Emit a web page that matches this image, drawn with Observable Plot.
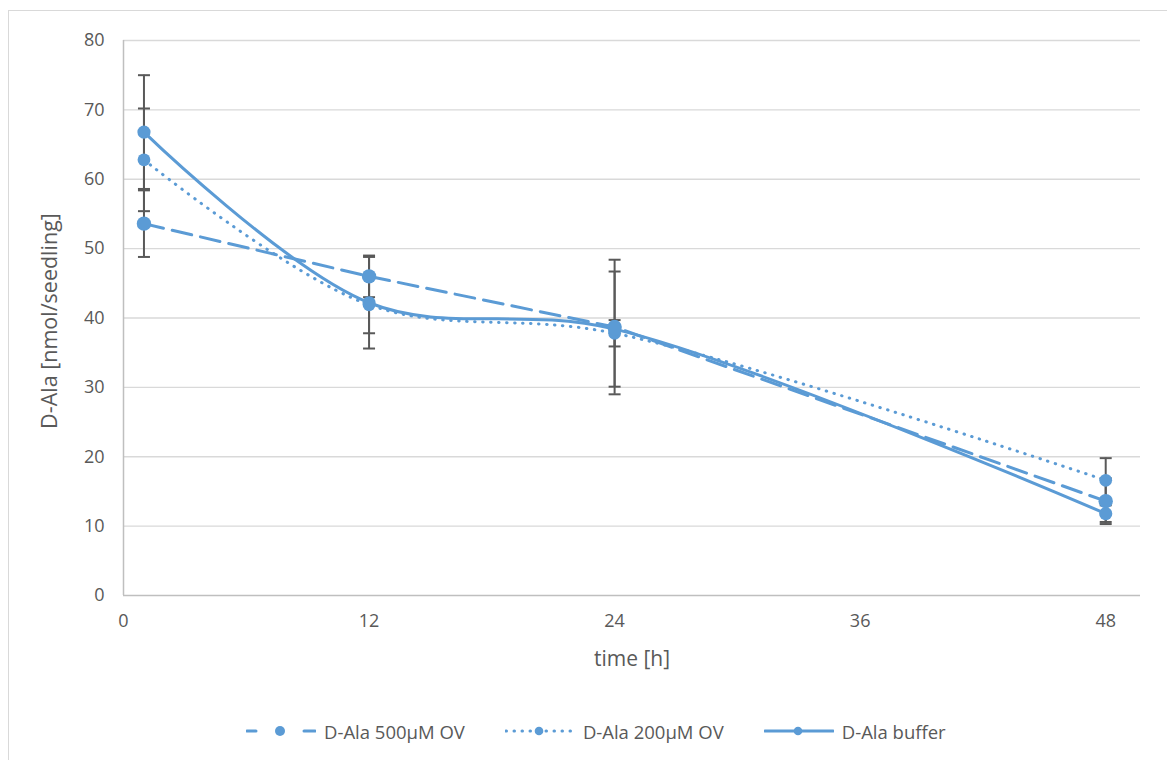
<!DOCTYPE html>
<html>
<head>
<meta charset="utf-8">
<script src="https://cdn.jsdelivr.net/npm/d3@7"></script>
<script src="https://cdn.jsdelivr.net/npm/@observablehq/plot@0.6"></script>
<style>
  body { margin: 0; background: #fff; font-family: "Open Sans", sans-serif; }
  #wrap { position: relative; width: 1167px; height: 760px; overflow: hidden; background: #fff; }
  #frame { position: absolute; left: 8px; top: 10px; width: 1300px; height: 900px; border: 1.5px solid #d9d9d9; box-sizing: border-box; }
  #chart { position: absolute; left: 0; top: 0; }
  #legend { position: absolute; top: 718px; left: 246px; display: flex; gap: 40px; align-items: center; }
  .item { display: flex; align-items: center; gap: 8px; font-size: 18.5px; color: #595959; white-space: nowrap; }
  .item svg { display: block; }
</style>
</head>
<body>
<div id="wrap">
  <div id="frame"></div>
  <div id="chart"></div>
  <div id="legend"></div>
</div>
<script>
// ---- data ----
const times = [1, 12, 24, 48];
const seriesNames = ["D-Ala 500µM OV", "D-Ala 200µM OV", "D-Ala buffer"];
const ov500 = [53.6, 46.0, 38.7, 13.6];
const ov500Err = [4.8, 3.0, 9.7, 3.3];
const ov200 = [62.8, 41.9, 37.8, 16.6];
const ov200Err = [7.4, 4.1, 1.9, 3.2];
const buffer = [66.8, 42.2, 38.4, 11.8];
const bufferErr = [8.2, 6.6, 8.3, 1.2];
const xTicks = [0, 12, 24, 36, 48];
const yTicks = [0, 10, 20, 30, 40, 50, 60, 70, 80];
const xTitle = "time [h]";
const yTitle = "D-Ala [nmol/seedling]";

// ---- build tables ----
const blue = "#5b9bd5";
const errColor = "#595959";
const styles = [
  {name: seriesNames[0], values: ov500, errs: ov500Err, dash: "20,9", cap: "round", curve: "linear", r: 7.2, lr: 5},
  {name: seriesNames[1], values: ov200, errs: ov200Err, dash: "0.5,7.5", cap: "round", curve: "catmull-rom", r: 6.4, lr: 4.3},
  {name: seriesNames[2], values: buffer, errs: bufferErr, dash: null, cap: "round", curve: "catmull-rom", r: 6.6, lr: 4.3}
];
const rows = styles.map(s => times.map((t, i) => ({series: s.name, x: t, y: s.values[i], lo: s.values[i] - s.errs[i], hi: s.values[i] + s.errs[i]})));
const caps = rows.flat().flatMap(d => [{x: d.x, y: d.lo}, {x: d.x, y: d.hi}]);

const capSymbol = {
  draw(context, size) {
    const w = Math.sqrt(size / Math.PI);
    context.moveTo(-w, 0);
    context.lineTo(w, 0);
  }
};

const marks = [
  Plot.ruleY(yTicks.filter(v => v > 0), {stroke: "#d9d9d9", strokeWidth: 1.3}),
  Plot.ruleY([0], {stroke: "#bfbfbf", strokeWidth: 1.5}),
  Plot.ruleX([0], {stroke: "#bfbfbf", strokeWidth: 1.5}),
  Plot.axisX({ticks: xTicks, tickSize: 0, tickPadding: 19, fontSize: 18, label: null, tickFormat: d => String(d)}),
  Plot.axisY({ticks: yTicks, tickSize: 0, tickPadding: 19, fontSize: 18, label: null, tickFormat: d => String(d)}),
  Plot.text([xTitle], {frameAnchor: "bottom", dy: 70, fontSize: 21, fill: "#595959"}),
  Plot.text([yTitle], {frameAnchor: "left", textAnchor: "middle", dx: -73, dy: 3, rotate: -90, fontSize: 21.5, fill: "#595959"}),
  Plot.ruleX(rows.flat(), {x: "x", y1: "lo", y2: "hi", stroke: errColor, strokeWidth: 2}),
  Plot.dot(caps, {x: "x", y: "y", symbol: capSymbol, r: 6, stroke: errColor, strokeWidth: 2, fill: "none"})
];
styles.forEach((s, k) => {
  marks.push(Plot.line(rows[k], {x: "x", y: "y", stroke: blue, strokeWidth: 3, strokeDasharray: s.dash, strokeLinecap: s.cap, curve: s.curve}));
});
styles.forEach((s, k) => {
  marks.push(Plot.dot(rows[k], {x: "x", y: "y", r: s.r, fill: blue, stroke: "none"}));
});

const chart = Plot.plot({
  width: 1167,
  height: 700,
  marginLeft: 123,
  marginRight: 27,
  marginTop: 40,
  marginBottom: 105,
  x: {domain: [0, 49.7]},
  y: {domain: [0, 80]},
  style: {color: "#595959", fontFamily: "Open Sans, sans-serif", background: "transparent", overflow: "visible"},
  marks
});
document.getElementById("chart").appendChild(chart);

// ---- legend ----
const legend = document.getElementById("legend");
const legendDash = ["9,48,13", "0.5,7.5", null];
styles.forEach((s, k) => {
  const item = document.createElement("div");
  item.className = "item";
  const ns = "http://www.w3.org/2000/svg";
  const sv = document.createElementNS(ns, "svg");
  sv.setAttribute("width", 70);
  sv.setAttribute("height", 26);
  const ln = document.createElementNS(ns, "line");
  ln.setAttribute("x1", 1); ln.setAttribute("x2", 69);
  ln.setAttribute("y1", 13); ln.setAttribute("y2", 13);
  ln.setAttribute("stroke", blue);
  ln.setAttribute("stroke-width", 3);
  ln.setAttribute("stroke-linecap", "round");
  if (legendDash[k]) ln.setAttribute("stroke-dasharray", legendDash[k]);
  sv.appendChild(ln);
  const c = document.createElementNS(ns, "circle");
  c.setAttribute("cx", 34); c.setAttribute("cy", 13); c.setAttribute("r", s.lr);
  c.setAttribute("fill", blue);
  sv.appendChild(c);
  item.appendChild(sv);
  const span = document.createElement("span");
  span.textContent = s.name;
  item.appendChild(span);
  legend.appendChild(item);
});
</script>
</body>
</html>
